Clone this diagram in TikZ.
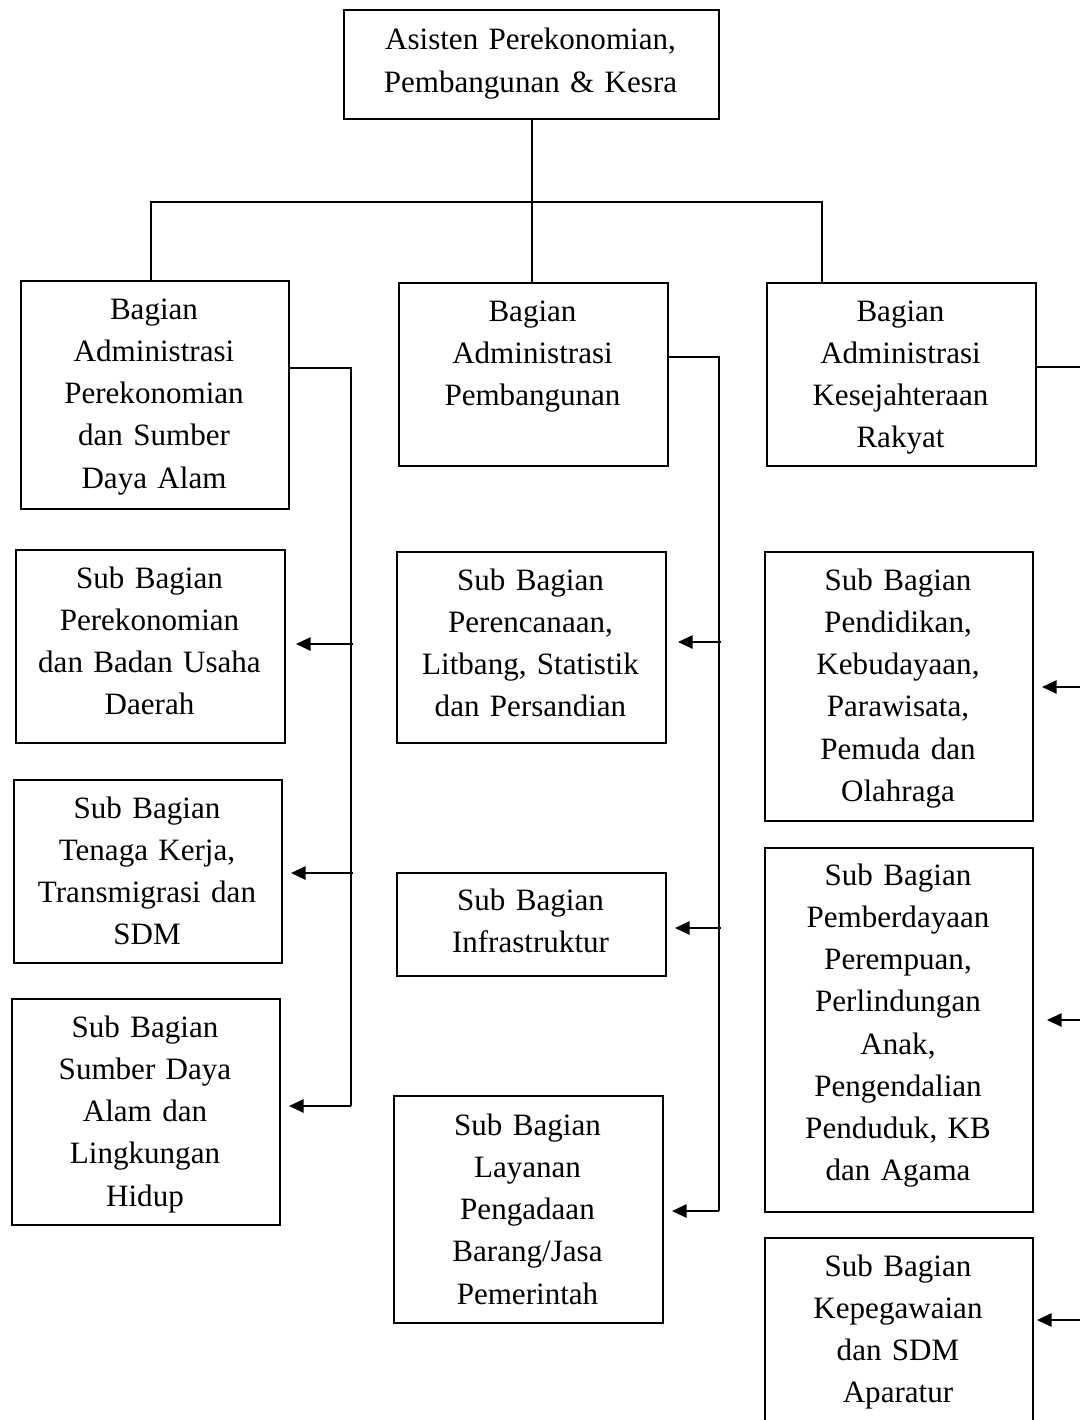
\documentclass[tikz,border=0pt]{standalone}
\usepackage{fontspec}
\setmainfont{Liberation Serif}
\usetikzlibrary{arrows.meta}
\tikzset{
  orgframe/.style={draw, line width=1.5pt, inner sep=0pt, anchor=north west},
  lbl/.style={align=center, text width=225pt, inner sep=0pt, anchor=base,
              font=\fontsize{23.3pt}{31.7pt}\selectfont},
  wire/.style={line width=1.5pt},
  arr/.style={line width=1.5pt, -{Triangle[length=11pt,width=10pt]}},
}
% frame node: name, left, top, width, height (all in px units)
\newcommand\orgbox[5]{\node[orgframe, minimum width=#4*0.75pt, minimum height=#5*0.75pt] (#1) at (#2,#3) {};}
\begin{document}
\begin{tikzpicture}[x=0.75pt, y=-0.75pt]
\useasboundingbox (0,0) rectangle (1080,1420);
\clip (0,0) rectangle (1080,1420);

% frames
\orgbox{top}{343}{9}{375}{109}
\orgbox{L}{20}{280}{268}{228}
\orgbox{M}{398}{282}{269}{183}
\orgbox{R}{766}{282}{269}{183}
\orgbox{S1}{15}{549}{269}{193}
\orgbox{S2}{13}{779}{268}{183}
\orgbox{S3}{11}{998}{268}{226}
\orgbox{M1}{396}{551}{269}{191}
\orgbox{M2}{396}{872}{269}{103}
\orgbox{M3}{393}{1095}{269}{227}
\orgbox{R1}{764}{551}{268}{269}
\orgbox{R2}{764}{847}{268}{364}
\orgbox{R3}{764}{1237}{268}{200}

% labels
\node[lbl] (topT) at (530.5,50) {Asisten Perekonomian,\\Pembangunan \& Kesra};
\node[lbl] (LT) at (154,319) {Bagian\\Administrasi\\Perekonomian\\dan Sumber\\Daya Alam};
\node[lbl] (MT) at (532.5,321) {Bagian\\Administrasi\\Pembangunan};
\node[lbl] (RT) at (900.5,321) {Bagian\\Administrasi\\Kesejahteraan\\Rakyat};
\node[lbl] (S1T) at (149.5,588) {Sub Bagian\\Perekonomian\\dan Badan Usaha\\Daerah};
\node[lbl] (S2T) at (147,818) {Sub Bagian\\Tenaga Kerja,\\Transmigrasi dan\\SDM};
\node[lbl] (S3T) at (145,1037) {Sub Bagian\\Sumber Daya\\Alam dan\\Lingkungan\\Hidup};
\node[lbl] (M1T) at (530.5,590) {Sub Bagian\\Perencanaan,\\Litbang, Statistik\\dan Persandian};
\node[lbl] (M2T) at (530.5,910) {Sub Bagian\\Infrastruktur};
\node[lbl] (M3T) at (527.5,1135) {Sub Bagian\\Layanan\\Pengadaan\\Barang/Jasa\\Pemerintah};
\node[lbl] (R1T) at (898,590) {Sub Bagian\\Pendidikan,\\Kebudayaan,\\Parawisata,\\Pemuda dan\\Olahraga};
\node[lbl] (R2T) at (898,885) {Sub Bagian\\Pemberdayaan\\Perempuan,\\Perlindungan\\Anak,\\Pengendalian\\Penduduk, KB\\dan Agama};
\node[lbl] (R3T) at (898,1276) {Sub Bagian\\Kepegawaian\\dan SDM\\Aparatur};

% top level tree
\coordinate (barL) at (151,202);
\coordinate (barR) at (822,202);
\draw[wire] (top.south) -- (top.south |- M.north);
\draw[wire] (barL |- L.north) -- (barL) -- (barR) -- (barR |- R.north);

% left branch
\coordinate (busLa) at (351,368);
\coordinate (busLb) at (351,1106);
\coordinate (aL1) at (353,644);
\coordinate (aL2) at (353,873);
\draw[wire] (L.east |- busLa) -- (busLa) -- (busLb);
\draw[arr, shorten >=7.5pt] (aL1) -- (aL1 -| S1.east);
\draw[arr, shorten >=6pt] (aL2) -- (aL2 -| S2.east);
\draw[arr, shorten >=6pt] (busLb) -- (busLb -| S3.east);

% middle branch
\coordinate (busMa) at (719,357);
\coordinate (busMb) at (719,1211);
\coordinate (aM1) at (721,642);
\coordinate (aM2) at (721,928);
\draw[wire] (M.east |- busMa) -- (busMa) -- (busMb);
\draw[arr, shorten >=8.25pt] (aM1) -- (aM1 -| M1.east);
\draw[arr, shorten >=6pt] (aM2) -- (aM2 -| M2.east);
\draw[arr, shorten >=6pt] (busMb) -- (busMb -| M3.east);

% right branch
\coordinate (busRa) at (1085,367);
\coordinate (busRb) at (1085,1425);
\coordinate (aR1) at (1085,687);
\coordinate (aR2) at (1085,1020);
\coordinate (aR3) at (1085,1320);
\draw[wire] (R.east |- busRa) -- (busRa) -- (busRb);
\draw[arr, shorten >=6pt] (aR1) -- (aR1 -| R1.east);
\draw[arr, shorten >=9.75pt] (aR2) -- (aR2 -| R2.east);
\draw[arr, shorten >=2.25pt] (aR3) -- (aR3 -| R3.east);
\end{tikzpicture}
\end{document}
